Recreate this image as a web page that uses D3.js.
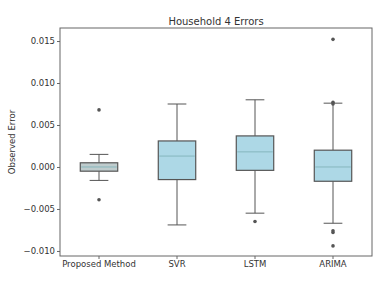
<!DOCTYPE html>
<html>
<head>
<meta charset="utf-8">
<script src="https://cdn.jsdelivr.net/npm/d3@7"></script>
<style>
  body { margin: 0; background: #fff; }
  text { font-family: "DejaVu Sans", sans-serif; fill: #333; }
</style>
</head>
<body>
<div id="chart"></div>
<script>
// box summaries
const methods = ['Proposed Method', 'SVR', 'LSTM', 'ARIMA'];
const whiskerLow = [-0.0016, -0.0069, -0.0055, -0.0067];
const q1 = [-0.0005, -0.0015, -0.0004, -0.0017];
const median = [0.0000, 0.0013, 0.0018, 0.0000];
const q3 = [0.0005, 0.0031, 0.0037, 0.0020];
const whiskerHigh = [0.0015, 0.0075, 0.0080, 0.0076];
const outliers = [
  [0.0068, -0.0039],
  [],
  [-0.0065],
  [0.0152, 0.0077, 0.0075, -0.0076, -0.0078, -0.0094]
];
const yTicks = [-0.010, -0.005, 0.000, 0.005, 0.010, 0.015];

const width = 382, height = 282;
const margin = {top: 28, right: 10, bottom: 26, left: 60};

const svg = d3.select('#chart').append('svg')
  .attr('width', width).attr('height', height);

const x = d3.scaleBand().domain(methods)
  .range([margin.left, width - margin.right]);
const y = d3.scaleLinear().domain([-0.0106, 0.01655])
  .range([height - margin.bottom, margin.top]);

const boxW = x.bandwidth() * 0.48;

// axes
const yAxis = svg.append('g')
  .attr('transform', `translate(${margin.left},0)`)
  .call(d3.axisLeft(y).tickValues(yTicks).tickSize(3).tickPadding(2)
    .tickFormat(d3.format('.3f')));
const xAxis = svg.append('g')
  .attr('transform', `translate(0,${height - margin.bottom})`)
  .call(d3.axisBottom(x).tickSize(3).tickPadding(2));
[yAxis, xAxis].forEach(a => {
  a.select('.domain').remove();
  a.selectAll('line').attr('stroke', '#666');
  a.selectAll('text').attr('font-size', 8.5).attr('fill', '#444')
    .style('font-family', '"DejaVu Sans", sans-serif');
});

// frame
svg.append('rect')
  .attr('x', margin.left).attr('y', margin.top)
  .attr('width', width - margin.left - margin.right)
  .attr('height', height - margin.top - margin.bottom)
  .attr('fill', 'none').attr('stroke', '#666').attr('stroke-width', 1);

// title + label
svg.append('text').attr('x', (margin.left + width - margin.right) / 2).attr('y', 25)
  .attr('text-anchor', 'middle').attr('font-size', 10).text('Household 4 Errors');
svg.append('text')
  .attr('transform', `translate(15,${(margin.top + height - margin.bottom) / 2}) rotate(-90)`)
  .attr('text-anchor', 'middle').attr('font-size', 8.5).text('Observed Error');

const g = svg.append('g').selectAll('g').data(methods).join('g')
  .attr('transform', d => `translate(${x(d) + x.bandwidth() / 2},0)`);

// whiskers
g.append('line').attr('x1', 0).attr('x2', 0)
  .attr('y1', (d, i) => y(whiskerHigh[i])).attr('y2', (d, i) => y(q3[i]))
  .attr('stroke', '#555');
g.append('line').attr('x1', 0).attr('x2', 0)
  .attr('y1', (d, i) => y(q1[i])).attr('y2', (d, i) => y(whiskerLow[i]))
  .attr('stroke', '#555');
// caps
g.append('line').attr('x1', -boxW / 4).attr('x2', boxW / 4)
  .attr('y1', (d, i) => y(whiskerHigh[i])).attr('y2', (d, i) => y(whiskerHigh[i]))
  .attr('stroke', '#555');
g.append('line').attr('x1', -boxW / 4).attr('x2', boxW / 4)
  .attr('y1', (d, i) => y(whiskerLow[i])).attr('y2', (d, i) => y(whiskerLow[i]))
  .attr('stroke', '#555');
// boxes
g.append('rect').attr('x', -boxW / 2).attr('width', boxW)
  .attr('y', (d, i) => y(q3[i]))
  .attr('height', (d, i) => y(q1[i]) - y(q3[i]))
  .attr('fill', (d, i) => i === 0 ? '#bfcccd' : '#add8e6')
  .attr('stroke', '#555').attr('stroke-width', 1.2);
// medians
g.append('line').attr('x1', -boxW / 2 + 1).attr('x2', boxW / 2 - 1)
  .attr('y1', (d, i) => y(median[i])).attr('y2', (d, i) => y(median[i]))
  .attr('stroke', '#86b6bd').attr('stroke-width', 1);
// outliers
g.selectAll('circle').data((d, i) => outliers[i]).join('circle')
  .attr('cx', 0).attr('cy', v => y(v)).attr('r', 1.8)
  .attr('fill', '#555');
</script>
</body>
</html>
